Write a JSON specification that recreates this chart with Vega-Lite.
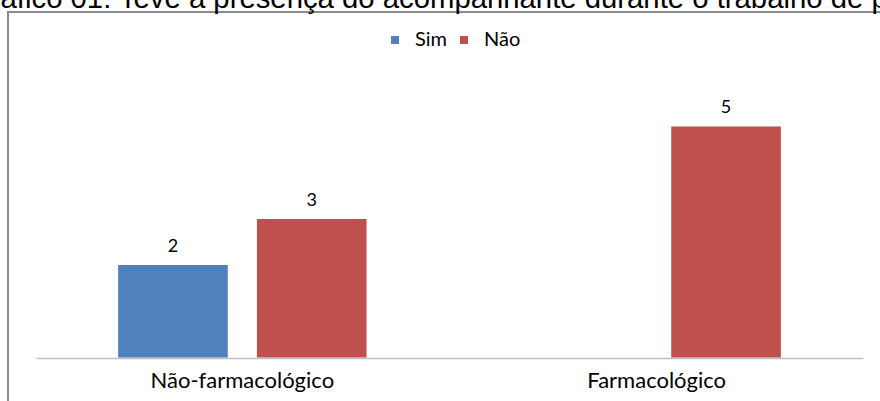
{
  "$schema": "https://vega.github.io/schema/vega-lite/v6.json",
  "autosize": {"type": "none"},
  "width": 872,
  "height": 389,
  "padding": {"left": 8, "top": 12, "right": 0, "bottom": 0},
  "background": "white",
  "title": {
    "text": "Gráfico 01: Teve a presença do acompanhante durante o trabalho de parto",
    "font": "Liberation Sans",
    "fontSize": 29.3,
    "fontWeight": "normal",
    "color": "#000000",
    "anchor": "start",
    "frame": "group",
    "baseline": "alphabetic",
    "offset": 3,
    "limit": 0,
    "dx": -40,
    "dy": 28
  },
  "config": {
    "view": {"stroke": "#8a8a8a", "strokeWidth": 2, "strokeDash": [872, 1261, 389, 10]},
    "font": "Lato"
  },
  "data": {
    "values": [
      {"categoria": "Não-farmacológico", "resposta": "Sim", "valor": 2},
      {"categoria": "Não-farmacológico", "resposta": "Não", "valor": 3},
      {"categoria": "Farmacológico", "resposta": "Não", "valor": 5}
    ]
  },
  "encoding": {
    "x": {
      "field": "categoria",
      "type": "nominal",
      "sort": ["Não-farmacológico", "Farmacológico"],
      "scale": {"range": [28, 855], "paddingInner": 0.33, "paddingOuter": 0.163},
      "axis": {
        "title": null,
        "orient": "bottom",
        "offset": -43,
        "ticks": false,
        "grid": false,
        "domainColor": "#bfbfbf",
        "domainWidth": 1.5,
        "labelFont": "Lato",
        "labelFontSize": 22,
        "labelColor": "#000000",
        "labelPadding": 12,
        "labelLimit": 400,
        "labelAngle": 0
      }
    },
    "xOffset": {
      "field": "resposta",
      "type": "nominal",
      "scale": {"domain": ["Sim", "Não"], "paddingInner": 0.21, "paddingOuter": 0.105}
    },
    "y": {
      "field": "valor",
      "type": "quantitative",
      "stack": null,
      "scale": {"domain": [-0.942, 7.478], "nice": false, "zero": false},
      "axis": null
    }
  },
  "layer": [
    {
      "mark": {"type": "bar"},
      "encoding": {
        "color": {
          "field": "resposta",
          "type": "nominal",
          "scale": {"domain": ["Sim", "Não"], "range": ["#4F81BD", "#C0504D"]},
          "legend": {
            "title": null,
            "orient": "none",
            "direction": "horizontal",
            "legendX": 377,
            "legendY": 18,
            "padding": 0,
            "symbolType": "square",
            "symbolSize": 64,
            "symbolStrokeWidth": 0,
            "labelFont": "Lato",
            "labelFontSize": 20,
            "labelColor": "#000000",
            "labelOffset": 10,
            "columnPadding": 6
          }
        }
      }
    },
    {
      "mark": {"type": "text", "baseline": "alphabetic", "dy": -13, "font": "Lato", "fontSize": 18, "color": "#000000"},
      "encoding": {
        "text": {"field": "valor", "type": "quantitative"}
      }
    }
  ]
}
